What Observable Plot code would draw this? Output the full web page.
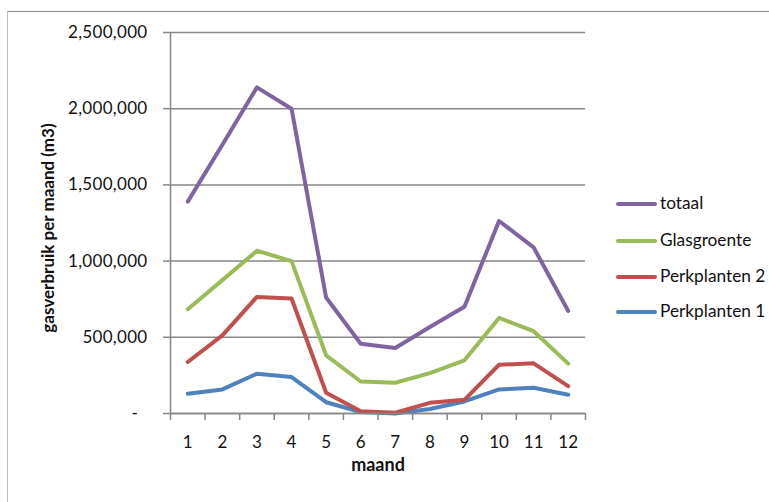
<!DOCTYPE html>
<html>
<head>
<meta charset="utf-8">
<script src="https://cdn.jsdelivr.net/npm/d3@7"></script>
<script src="https://cdn.jsdelivr.net/npm/@observablehq/plot@0.6"></script>
<style>
  html, body { margin: 0; padding: 0; background: #fff; overflow: hidden; }
  #wrap { position: relative; width: 769px; height: 502px; overflow: hidden; font-family: Lato, "Open Sans", sans-serif; }
  #frame { position: absolute; left: 7px; top: 11px; width: 770px; height: 500px;
           border-left: 1px solid #bdbdbd; border-top: 1.5px solid #8a8a8a; pointer-events: none; }
  #legend { position: absolute; left: 616px; top: 0; }
  .item { position: absolute; left: 0; white-space: nowrap; font-size: 17.3px; color: #111; }
  .item span.sw { position: absolute; left: 0; width: 41px; height: 4px; border-radius: 2px; }
  .item span.tx { position: absolute; left: 44px; line-height: 20px; top: -9px; }
  svg g[aria-label="y-axis tick label"] text { letter-spacing: 0.3px; }
</style>
</head>
<body>
<div id="wrap"><div id="frame"></div><div id="legend"></div></div>
<script>
const months = [1, 2, 3, 4, 5, 6, 7, 8, 9, 10, 11, 12];
const seriesNames = ["Perkplanten 1", "Perkplanten 2", "Glasgroente", "totaal"];
const seriesColors = ["#4F81BD", "#C0504D", "#9BBB59", "#8064A2"];
const perkplanten1 = [130000, 158000, 261000, 239000, 74000, 10000, 0, 30000, 79000, 158000, 169000, 123000];
const perkplanten2 = [338000, 513000, 765000, 755000, 136000, 15000, 5000, 70000, 90000, 320000, 329000, 180000];
const glasgroente = [684000, 875000, 1068000, 1000000, 382000, 210000, 202000, 265000, 349000, 627000, 540000, 327000];
const totaal = [1390000, 1763000, 2140000, 2000000, 761000, 458000, 430000, 568000, 700000, 1263000, 1090000, 673000];
const yTicks = [0, 500000, 1000000, 1500000, 2000000, 2500000];
const xTitle = "maand";
const yTitle = "gasverbruik per maand (m3)";

const seriesValues = [perkplanten1, perkplanten2, glasgroente, totaal];
const rows = [];
seriesNames.forEach((name, i) => months.forEach((m, j) => rows.push({series: name, month: m, value: seriesValues[i][j]})));
const bounds = [months[0] - 0.5, ...months.map(m => m + 0.5)];

const grid = "#878787";
const chart = Plot.plot({
  width: 769,
  height: 502,
  marginLeft: 170,
  marginRight: 184,
  marginTop: 32,
  marginBottom: 89,
  style: {fontFamily: "Lato, 'Open Sans', sans-serif", fontSize: "17px", color: "#111", background: "transparent", overflow: "visible"},
  x: {type: "linear", domain: [bounds[0], bounds[bounds.length - 1]]},
  y: {domain: [0, 2500000]},
  color: {domain: seriesNames, range: seriesColors},
  marks: [
    Plot.gridY(yTicks, {stroke: grid, strokeOpacity: 1, strokeWidth: 1.5}),
    Plot.ruleX([bounds[0]], {stroke: grid, strokeWidth: 1.5}),
    Plot.axisY({ticks: yTicks, tickSize: 7, tickPadding: 16, stroke: grid, strokeWidth: 1.5,
      tickFormat: d => d === 0 ? "-\u00a0\u00a0" : d3.format(",")(d), label: null}),
    Plot.axisX({ticks: bounds, tickSize: 7, stroke: grid, strokeWidth: 1.5, tickFormat: () => "", label: null}),
    Plot.axisX({ticks: months, tickSize: 0, tickPadding: 22, tickFormat: d => String(d), label: null}),
    Plot.text([xTitle], {frameAnchor: "bottom", dy: 57, fontWeight: "bold", fontSize: 18}),
    Plot.text([yTitle], {frameAnchor: "left", textAnchor: "middle", dx: -122, dy: 5, rotate: -90, fontWeight: "bold", fontSize: 17}),
    Plot.lineY(rows, {x: "month", y: "value", z: "series", stroke: "series", strokeWidth: 4, strokeLinejoin: "round", strokeLinecap: "round"}),
    Plot.ruleY([0], {stroke: grid, strokeWidth: 1.5})
  ]
});
chart.style.position = "absolute";
chart.style.left = "0";
chart.style.top = "0";
document.getElementById("wrap").prepend(chart);

const legend = document.getElementById("legend");
const legendTops = [312, 276.5, 240.5, 204];
seriesNames.forEach((name, i) => {
  const it = document.createElement("div");
  it.className = "item";
  it.style.top = (legendTops[i] - 2) + "px";
  it.innerHTML = `<span class="sw" style="background:${seriesColors[i]}"></span><span class="tx">${name}</span>`;
  legend.appendChild(it);
});
</script>
</body>
</html>
